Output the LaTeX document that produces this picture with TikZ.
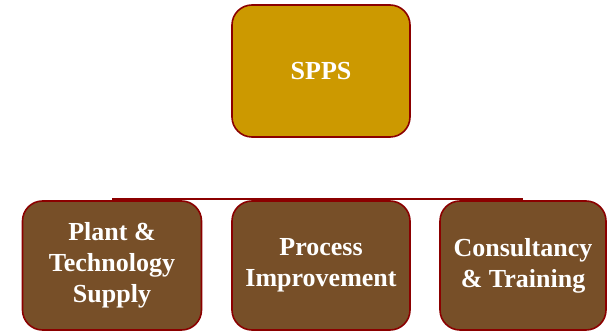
\documentclass[tikz,border=0pt]{standalone}
\usepackage{fontspec}
\setmainfont{Liberation Serif}
\definecolor{gold}{HTML}{CC9900}
\definecolor{brownbox}{HTML}{774F28}
\definecolor{edge}{HTML}{8B0000}
\begin{document}
\begin{tikzpicture}[x=1pt,y=1pt,
  box/.style={draw=edge, line width=1.6pt, rounded corners=20pt, align=center,
    text=white, font=\fontsize{26}{31}\selectfont\bfseries, inner sep=0pt},
  topbox/.style={box, fill=gold, minimum width=178pt, minimum height=132pt},
  subbox/.style={box, fill=brownbox, minimum height=129pt}]
\useasboundingbox (0,0) rectangle (608,332);
\node[topbox] (spps) at (321,261) {SPPS};
\node[subbox, minimum width=179pt] (plant) at (112,66.5) {Plant \&\\Technology\\Supply};
\node[subbox, minimum width=178pt] (proc) at (321,66.5) {Process\\Improvement};
\node[subbox, minimum width=166pt] (cons) at (523,66.5) {Consultancy\\\& Training};
\draw[edge, line width=1.5pt] ([yshift=1pt]plant.north) -- ([yshift=1pt]cons.north);
\end{tikzpicture}
\end{document}
